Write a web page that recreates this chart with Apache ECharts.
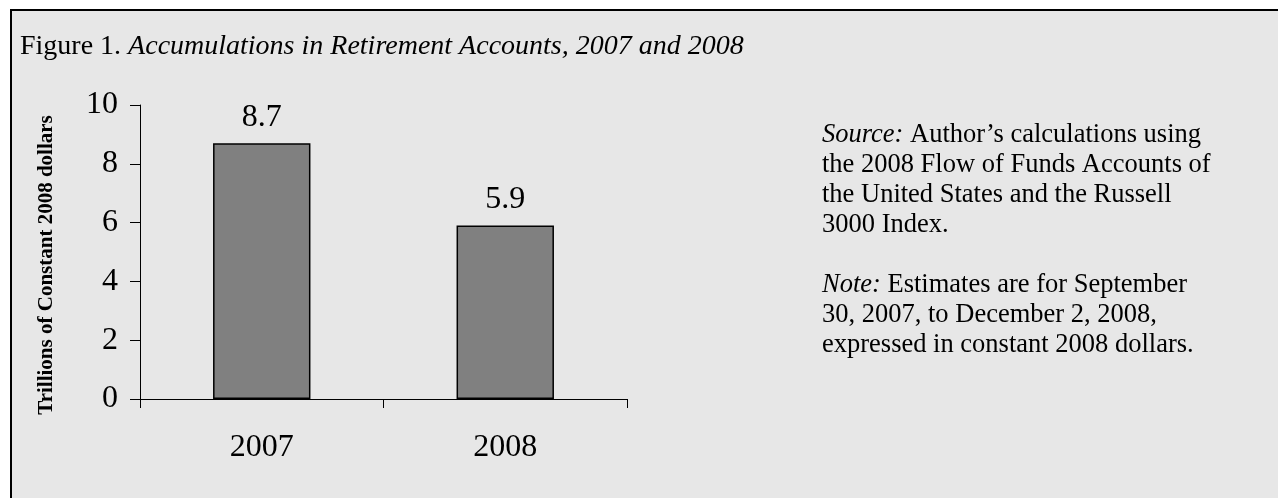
<!DOCTYPE html>
<html>
<head>
<meta charset="utf-8">
<script src="https://cdn.jsdelivr.net/npm/echarts@6/dist/echarts.min.js"></script>
<style>
html,body{margin:0;padding:0;background:#fff;}
#c{width:1278px;height:498px;}
</style>
</head>
<body>
<div id="c"></div>
<script>
const categories = ['2007', '2008'];
const values = [8.7, 5.9];
const yMin = 0, yMax = 10, yInterval = 2;
const titlePrefix = 'Figure 1. ';
const titleItalic = 'Accumulations in Retirement Accounts, 2007 and 2008';
const yAxisTitle = 'Trillions of Constant 2008 dollars';
const noteLines = [
  '{i|Source:} Author\u2019s calculations using',
  'the 2008 Flow of Funds Accounts of',
  'the United States and the Russell',
  '3000 Index.',
  '',
  '{i|Note:} Estimates are for September',
  '30, 2007, to December 2, 2008,',
  'expressed in constant 2008 dollars.'
];

const serif = '"Liberation Serif", "Times New Roman", serif';
const chart = echarts.init(document.getElementById('c'), null, {renderer: 'canvas'});
chart.setOption({
  backgroundColor: '#ffffff',
  animation: false,
  grid: {left: 140, right: 651, top: 105, bottom: 99},
  xAxis: {
    type: 'category',
    data: categories,
    axisLine: {lineStyle: {color: '#000', width: 1}},
    axisTick: {show: true, alignWithLabel: false, length: 9, lineStyle: {color: '#000'}},
    axisLabel: {color: '#000', fontFamily: serif, fontSize: 32, margin: 33}
  },
  yAxis: {
    type: 'value',
    min: yMin, max: yMax, interval: yInterval,
    axisLine: {show: true, lineStyle: {color: '#000', width: 1}},
    axisTick: {show: true, length: 10, lineStyle: {color: '#000'}},
    splitLine: {show: false},
    axisLabel: {color: '#000', fontFamily: serif, fontSize: 32, margin: 22}
  },
  series: [{
    type: 'bar',
    data: values,
    barWidth: '40%',
    itemStyle: {color: '#808080', borderColor: '#000', borderWidth: 1.5},
    label: {show: true, position: 'top', distance: 10, color: '#000', fontFamily: serif, fontSize: 32,
      formatter: p => p.value.toFixed(1)}
  }],
  graphic: [
    {type: 'rect', z: -10, silent: true,
     shape: {x: 11, y: 10, width: 1400, height: 600},
     style: {fill: '#e7e7e7', stroke: '#000', lineWidth: 2}},
    {type: 'text', left: 20, top: 33, z: 10,
     style: {
       text: '{a|' + titlePrefix + '}{b|' + titleItalic + '}',
       rich: {
         a: {fontFamily: serif, fontSize: 28, color: '#000'},
         b: {fontFamily: serif, fontSize: 28, fontStyle: 'italic', color: '#000'}
       }
     }},
    {type: 'text', z: 10, x: 47, y: 265, rotation: Math.PI / 2,
     style: {
       text: yAxisTitle, fontFamily: serif, fontSize: 21, fontWeight: 'bold', fill: '#000',
       align: 'center', verticalAlign: 'middle'
     }},
    {type: 'text', z: 10, left: 822, top: 120,
     style: {
       text: noteLines.join('\n'),
       fontFamily: serif, fontSize: 26.5, fill: '#000', lineHeight: 30,
       rich: {i: {fontFamily: serif, fontSize: 26.5, fontStyle: 'italic', lineHeight: 30}}
     }}
  ]
});
</script>
</body>
</html>
